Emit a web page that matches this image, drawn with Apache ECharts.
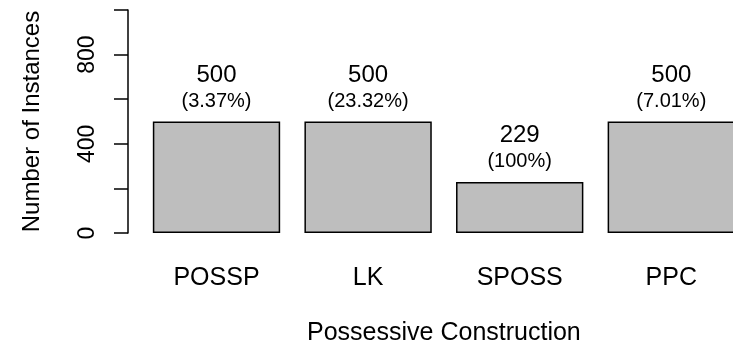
<!DOCTYPE html>
<html>
<head>
<meta charset="utf-8">
<script src="https://cdn.jsdelivr.net/npm/echarts@6/dist/echarts.min.js"></script>
<style>
html,body{margin:0;padding:0;background:#fff;}
#c{width:733px;height:344px;}
</style>
</head>
<body>
<div id="c"></div>
<script>
var categories = ['POSSP', 'LK', 'SPOSS', 'PPC'];
var counts = [500, 500, 229, 500];
var percents = ['3.37%', '23.32%', '100%', '7.01%'];
var yTickLabels = [0, 400, 800];

var FONT = 'Liberation Sans, Arial, Helvetica, sans-serif';
var chart = echarts.init(document.getElementById('c'), null, {renderer: 'canvas'});
chart.setOption({
  animation: false,
  backgroundColor: '#ffffff',
  grid: {left: 140.7, width: 606.4, top: 10, height: 223, containLabel: false, outerBoundsMode: 'none'},
  xAxis: {
    type: 'category',
    data: categories,
    axisLine: {show: false},
    axisTick: {show: false},
    axisLabel: {fontSize: 25, lineHeight: 25, color: '#000', fontFamily: FONT, margin: 33},
    name: 'Possessive Construction',
    nameLocation: 'middle',
    nameGap: 88,
    nameTextStyle: {fontSize: 25, lineHeight: 25, color: '#000', fontFamily: FONT}
  },
  yAxis: {
    type: 'value',
    min: 0,
    max: 1000,
    interval: 200,
    offset: 12.7,
    splitLine: {show: false},
    axisLine: {show: true, lineStyle: {color: '#000', width: 1.5}},
    axisTick: {show: true, length: 14, lineStyle: {color: '#000', width: 1.5}},
    axisLabel: {
      rotate: 90,
      fontSize: 23,
      lineHeight: 24,
      color: '#000',
      fontFamily: FONT,
      margin: 28,
      formatter: function (v) { return yTickLabels.indexOf(v) >= 0 ? String(v) : ''; }
    },
    name: 'Number of Instances',
    nameLocation: 'middle',
    nameRotate: 90,
    nameGap: 84,
    nameTextStyle: {fontSize: 24, lineHeight: 24, color: '#000', fontFamily: FONT}
  },
  series: [{
    type: 'bar',
    data: counts,
    barCategoryGap: '16%',
    itemStyle: {color: '#bebebe', borderColor: '#000', borderWidth: 1.5},
    label: {
      show: true,
      position: 'top',
      distance: 8,
      color: '#000',
      fontFamily: FONT,
      formatter: function (p) {
        return '{a|' + counts[p.dataIndex] + '}\n{b|(' + percents[p.dataIndex] + ')}';
      },
      rich: {
        a: {fontSize: 24, lineHeight: 29, color: '#000', fontFamily: FONT},
        b: {fontSize: 20, lineHeight: 24, color: '#000', fontFamily: FONT}
      }
    }
  }]
});
</script>
</body>
</html>
